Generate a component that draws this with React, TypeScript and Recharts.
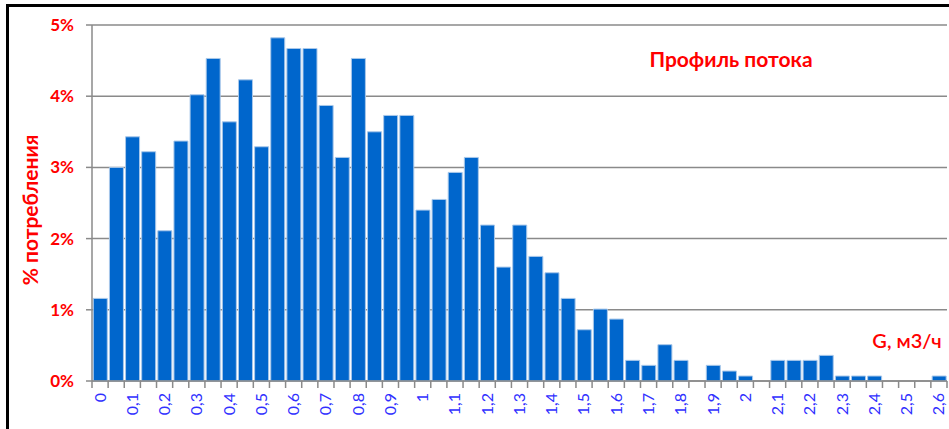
import { Bar, BarChart, CartesianGrid, XAxis, YAxis } from "recharts";

const BAR_COLOR = "#0066cc";
const RED = "#ff0000";
const LABEL_BLUE = "#3030ff";
const GRID = "#8a8a8a";
const FONT = "Lato, 'Open Sans', sans-serif";

// G, м3/ч — шаг 0,05; подписываются только чётные
const flowLabels = [
  "0", "0,05", "0,1", "0,15", "0,2", "0,25", "0,3", "0,35", "0,4", "0,45",
  "0,5", "0,55", "0,6", "0,65", "0,7", "0,75", "0,8", "0,85", "0,9", "0,95",
  "1", "1,05", "1,1", "1,15", "1,2", "1,25", "1,3", "1,35", "1,4", "1,45",
  "1,5", "1,55", "1,6", "1,65", "1,7", "1,75", "1,8", "1,85", "1,9", "1,95",
  "2", "2,05", "2,1", "2,15", "2,2", "2,25", "2,3", "2,35", "2,4", "2,45",
  "2,5", "2,55", "2,6",
];

// % потребления
const shareValues = [
  1.16, 3.0, 3.43, 3.22, 2.11, 3.37, 4.02, 4.53, 3.64, 4.23,
  3.29, 4.82, 4.67, 4.67, 3.87, 3.14, 4.53, 3.5, 3.73, 3.73,
  2.4, 2.55, 2.93, 3.14, 2.19, 1.6, 2.19, 1.75, 1.52, 1.16,
  0.72, 1.01, 0.87, 0.29, 0.22, 0.51, 0.29, 0, 0.22, 0.14,
  0.07, 0, 0.29, 0.29, 0.29, 0.36, 0.07, 0.07, 0.07, 0,
  0, 0, 0.07,
];

const yTicks = [0, 1, 2, 3, 4, 5];

const data = flowLabels.map((label, i) => ({ label, share: shareValues[i] }));

const WIDTH = 949;
const HEIGHT = 429;
const PLOT_LEFT = 92;
const PLOT_RIGHT = 2;
const FALLBACK_HALF = (WIDTH - PLOT_LEFT - PLOT_RIGHT) / flowLabels.length / 2;

function FlowTick(props: any) {
  const { x, y, payload, index } = props;
  const half = payload?.offset || FALLBACK_HALF;
  const showLabel = index % 2 === 0;
  const isLast = index === flowLabels.length - 1;
  const tx = x;
  const ty = y + 12;
  return (
    <g>
      <line x1={x - half} x2={x - half} y1={y} y2={y + 7} stroke={GRID} strokeWidth={1.5} />
      {isLast && (
        <line x1={x + half} x2={x + half} y1={y} y2={y + 7} stroke={GRID} strokeWidth={1.5} />
      )}
      {showLabel && (
        <text
          x={tx}
          y={ty}
          transform={`rotate(-90, ${tx}, ${ty})`}
          textAnchor="end"
          dy="0.34em"
          fill={LABEL_BLUE}
          fontSize={16}
          fontFamily={FONT}
        >
          {payload.value}
        </text>
      )}
    </g>
  );
}

export default function App() {
  return (
    <div
      style={{
        position: "fixed",
        left: 0,
        top: 0,
        width: WIDTH,
        height: HEIGHT,
        overflow: "hidden",
        background: "#fff",
      }}
    >
      <div
        style={{
          position: "absolute",
          left: 6,
          top: 4,
          width: 980,
          height: 460,
          border: "3px solid #000",
        }}
      />
      <BarChart
        width={WIDTH}
        height={HEIGHT}
        data={data}
        margin={{ top: 25, right: PLOT_RIGHT, bottom: 0, left: 0 }}
        barCategoryGap="8%"
        style={{ position: "absolute", left: 0, top: 0 }}
      >
        <CartesianGrid vertical={false} stroke={GRID} strokeWidth={1.5} />
        <XAxis
          dataKey="label"
          height={48}
          interval={0}
          tickSize={0}
          tickMargin={0}
          tickLine={false}
          axisLine={{ stroke: GRID, strokeWidth: 1.5 }}
          tick={<FlowTick />}
        />
        <YAxis
          width={PLOT_LEFT}
          domain={[0, 5]}
          ticks={yTicks}
          tickFormatter={(v: number) => `${v}%`}
          tickSize={6}
          tickMargin={12}
          axisLine={{ stroke: GRID, strokeWidth: 1.5 }}
          tickLine={{ stroke: GRID, strokeWidth: 1.5 }}
          tick={{ fill: RED, fontSize: 17, fontWeight: 700, fontFamily: FONT }}
        />
        <Bar
          dataKey="share"
          fill={BAR_COLOR}
          stroke="#a9c8ea"
          strokeWidth={1}
          isAnimationActive={false}
        />
      </BarChart>
      <div
        style={{
          position: "absolute",
          left: 731,
          top: 58,
          transform: "translate(-50%, -50%)",
          color: RED,
          fontFamily: FONT,
          fontWeight: 700,
          fontSize: 21,
          whiteSpace: "nowrap",
        }}
      >
        Профиль потока
      </div>
      <div
        style={{
          position: "absolute",
          left: 907,
          top: 340,
          transform: "translate(-50%, -50%)",
          color: RED,
          fontFamily: FONT,
          fontWeight: 600,
          fontSize: 20,
          whiteSpace: "nowrap",
        }}
      >
        G, м3/ч
      </div>
      <div
        style={{
          position: "absolute",
          left: 29,
          top: 210,
          transform: "translate(-50%, -50%) rotate(-90deg)",
          color: RED,
          fontFamily: FONT,
          fontWeight: 700,
          fontSize: 21,
          whiteSpace: "nowrap",
        }}
      >
        % потребления
      </div>
    </div>
  );
}
